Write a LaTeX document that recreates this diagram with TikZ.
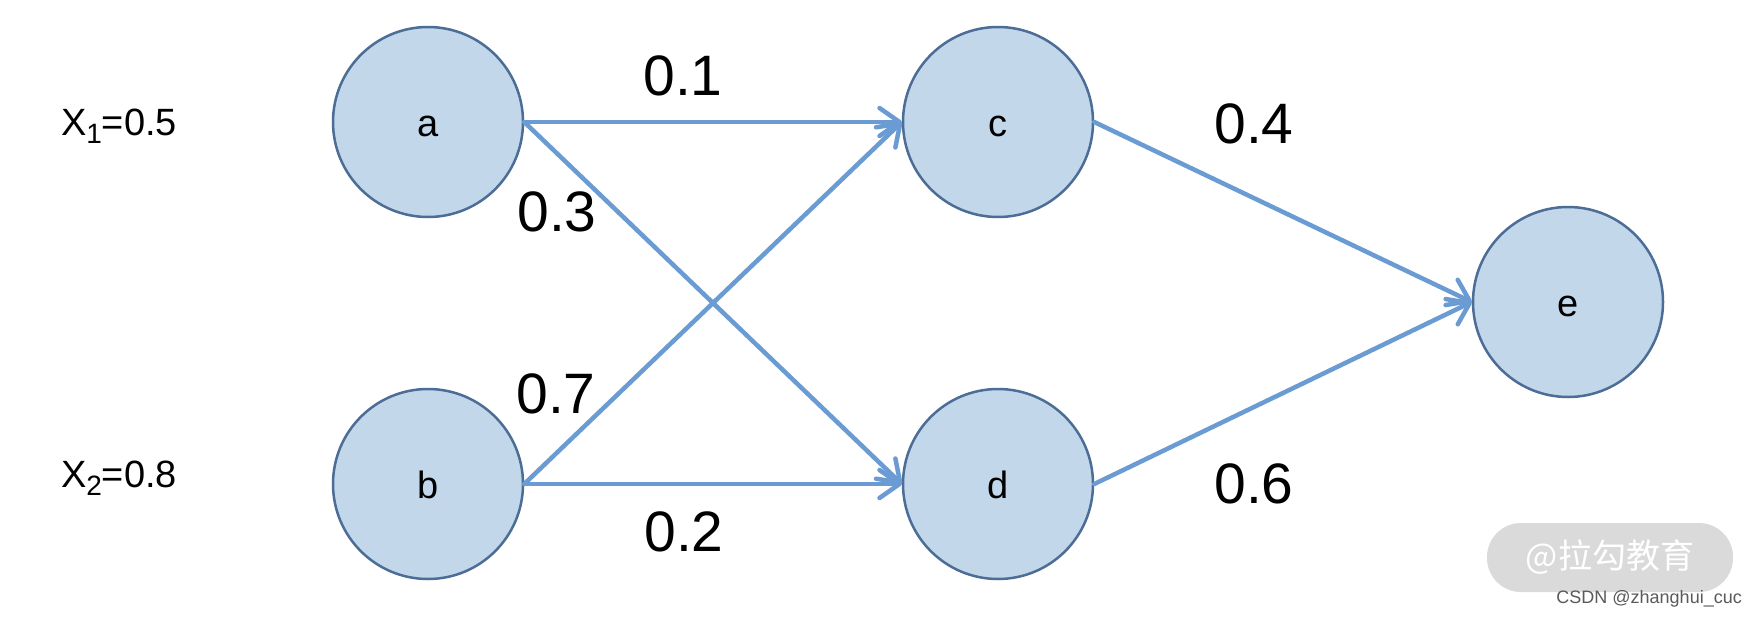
\documentclass[tikz,border=0pt]{standalone}
\usepackage{fontspec}
\setmainfont{Liberation Sans}
\newfontfamily\cjkfont{Noto Sans CJK SC}
\usetikzlibrary{arrows.meta}
\definecolor{edgeblue}{HTML}{6A9BD2}
\definecolor{nodefill}{HTML}{C3D7EB}
\definecolor{nodeline}{HTML}{4C6D96}
\definecolor{pillgrey}{HTML}{DADADA}
\definecolor{csdngrey}{HTML}{5A5A5A}
\begin{document}
\begin{tikzpicture}[x=1pt,y=-1pt,
  neuron/.style={circle, draw=nodeline, fill=nodefill, line width=2.5pt, minimum size=190pt, inner sep=0pt,
    font=\fontsize{38}{40}\selectfont, text height=28pt, text depth=0pt},
  conn/.style={draw=edgeblue, line width=4.5pt, line cap=round,
    -{Straight Barb[length=20pt,width=28pt,line cap=round,line join=round]}},
  weight/.style={font=\fontsize{57}{60}\selectfont, inner sep=0pt},
  inlabel/.style={font=\fontsize{38}{40}\selectfont, inner sep=0pt, anchor=base}
]
\useasboundingbox (0,0) rectangle (1758,616);
\fill[white] (0,0) rectangle (1758,616);

\node[neuron] (a) at (428,122) {a};
\node[neuron] (b) at (428,484) {b};
\node[neuron] (c) at (998,122) {c};
\node[neuron] (d) at (998,484) {d};
\node[neuron] (e) at (1568,302) {e};

\node[inlabel] (x1) at (119,135) {X\raisebox{-8pt}{\fontsize{28}{28}\selectfont 1}=0.5};
\node[inlabel] (x2) at (119,487) {X\raisebox{-8pt}{\fontsize{28}{28}\selectfont 2}=0.8};

\draw[conn] (a.east) -- (c.west);
\draw[conn] (a.east) -- (d.west);
\draw[conn] (b.east) -- (c.west);
\draw[conn] (b.east) -- (d.west);
\draw[conn] (c.east) -- (e.west);
\draw[conn] (d.east) -- (e.west);

\node[weight] (w1) at (683,76) {0.1};
\node[weight] (w3) at (557,212) {0.3};
\node[weight] (w7) at (556,394) {0.7};
\node[weight] (w2) at (684,532) {0.2};
\node[weight] (w4) at (1254,124) {0.4};
\node[weight] (w6) at (1254,484) {0.6};

\node[fill=pillgrey, rounded corners=34pt, minimum width=246pt, minimum height=69pt, inner sep=0pt,
  text=white, font=\cjkfont\fontsize{34}{34}\selectfont] (wm) at (1610,557.5) {@拉勾教育};
\node[anchor=base east, inner sep=0pt, text=csdngrey, font=\fontsize{18}{18}\selectfont] (csdn) at (1742,603) {CSDN @zhanghui\_cuc};
\end{tikzpicture}
\end{document}
